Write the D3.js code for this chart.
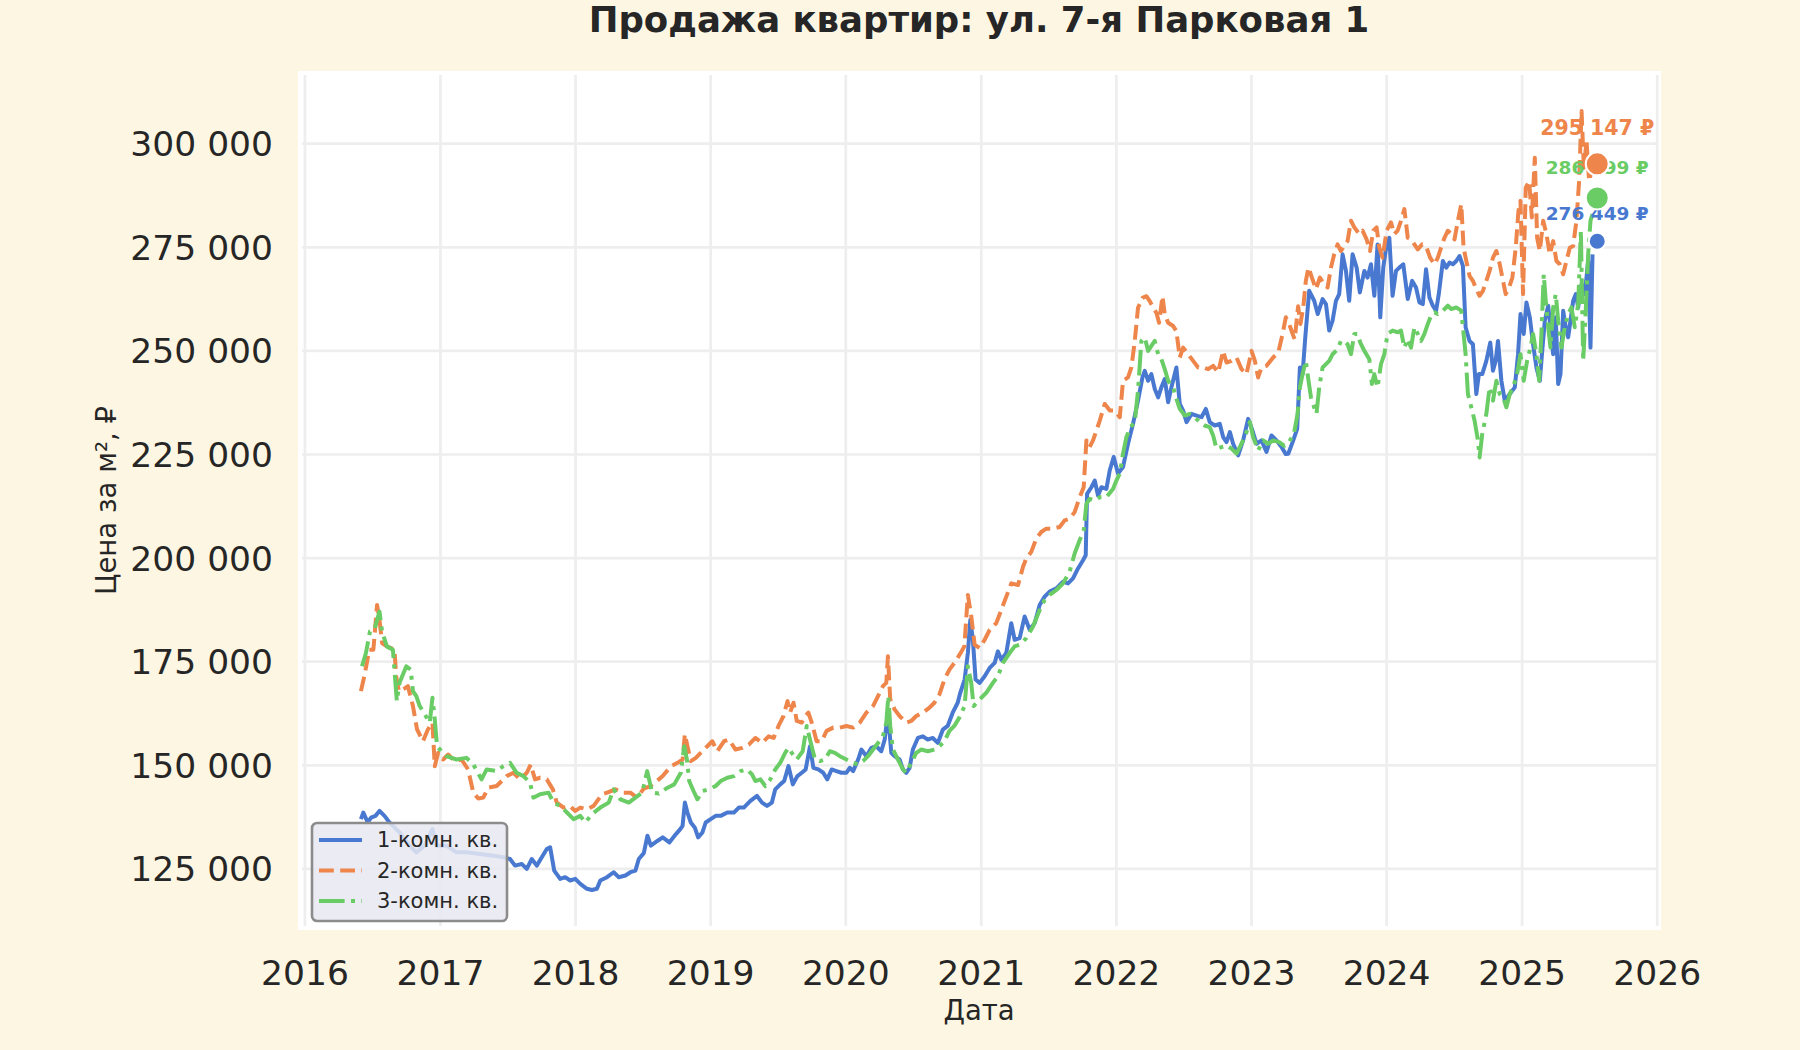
<!DOCTYPE html>
<html>
<head>
<meta charset="utf-8">
<script src="https://cdn.jsdelivr.net/npm/d3@7"></script>
<style>
  body { margin: 0; background: #fdf6e3; }
  text { font-family: "DejaVu Sans", sans-serif; fill: #262626; }
</style>
</head>
<body>
<div id="chart"></div>
<script>
// ---- data (decimal year, price per m2) ----
const categories = ["1-комн. кв.", "2-комн. кв.", "3-комн. кв."];

const room1 = [
  [2016.413,137000],[2016.431,138600],[2016.463,136200],[2016.488,137400],[2016.520,137800],[2016.550,139000],
  [2016.587,137800],[2016.624,136200],[2016.698,133800],[2016.772,130600],[2016.822,129000],[2016.884,130600],
  [2016.941,134600],[2016.970,130600],[2017.045,130600],[2017.119,129000],[2017.193,129000],[2017.292,128600],
  [2017.391,128200],[2017.465,127800],[2017.515,127400],[2017.552,125800],[2017.601,126200],[2017.639,125000],
  [2017.676,127400],[2017.713,125800],[2017.750,127800],[2017.787,129800],[2017.812,130200],[2017.842,124600],
  [2017.886,122600],[2017.923,123000],[2017.960,122200],[2017.998,122600],[2018.035,121400],[2018.084,120200],
  [2018.121,119900],[2018.158,120200],[2018.183,122200],[2018.233,123000],[2018.282,124200],[2018.319,123000],
  [2018.369,123400],[2018.406,124200],[2018.443,124600],[2018.468,127400],[2018.505,128800],[2018.532,133000],
  [2018.557,130600],[2018.608,131800],[2018.645,132600],[2018.694,131400],[2018.743,133400],[2018.775,134600],
  [2018.792,135400],[2018.809,141000],[2018.828,138600],[2018.853,136200],[2018.882,135000],[2018.907,132600],
  [2018.939,133800],[2018.963,136200],[2019.000,137000],[2019.037,137800],[2019.074,137800],[2019.123,138600],
  [2019.172,138600],[2019.208,139800],[2019.245,139800],[2019.294,141400],[2019.343,142600],[2019.380,141000],
  [2019.417,140200],[2019.453,141000],[2019.478,144200],[2019.515,145400],[2019.544,146200],[2019.576,149800],
  [2019.608,145400],[2019.642,147400],[2019.674,148200],[2019.703,149000],[2019.735,154600],[2019.760,149400],
  [2019.797,149000],[2019.833,148200],[2019.863,146600],[2019.895,149000],[2019.931,148600],[2019.968,148200],
  [2020.005,148200],[2020.029,149400],[2020.054,148600],[2020.091,151400],[2020.115,153800],[2020.152,152200],
  [2020.189,154200],[2020.225,154600],[2020.262,153400],[2020.287,156200],[2020.311,162700],[2020.336,153000],
  [2020.360,152200],[2020.397,151400],[2020.422,149000],[2020.446,148200],[2020.471,149400],[2020.495,153800],
  [2020.532,156600],[2020.569,157000],[2020.605,156200],[2020.642,156600],[2020.679,155400],[2020.716,158600],
  [2020.752,159500],[2020.789,162700],[2020.826,165100],[2020.845,167500],[2020.877,170700],[2020.901,177100],
  [2020.919,185100],[2020.938,180300],[2020.958,170700],[2020.988,169900],[2021.025,171500],[2021.062,173500],
  [2021.099,174700],[2021.123,177500],[2021.148,175500],[2021.185,177100],[2021.222,184300],[2021.247,180300],
  [2021.284,180700],[2021.321,185900],[2021.358,182700],[2021.395,184300],[2021.432,188700],[2021.469,190700],
  [2021.506,191900],[2021.556,192700],[2021.605,194300],[2021.642,193900],[2021.679,195100],[2021.716,197500],
  [2021.753,199500],[2021.773,200700],[2021.783,215500],[2021.815,217100],[2021.840,218700],[2021.864,215100],
  [2021.889,217100],[2021.926,216700],[2021.951,221200],[2021.980,224400],[2022.012,220400],[2022.049,222000],
  [2022.086,227600],[2022.123,232400],[2022.160,238000],[2022.193,243600],[2022.210,245200],[2022.235,242800],
  [2022.259,244400],[2022.284,240800],[2022.309,238800],[2022.333,241200],[2022.358,243200],[2022.383,237600],
  [2022.407,241200],[2022.444,246000],[2022.469,237200],[2022.494,235600],[2022.519,232800],[2022.556,234800],
  [2022.593,234400],[2022.630,234000],[2022.662,236000],[2022.691,232800],[2022.728,232000],[2022.765,232400],
  [2022.790,229200],[2022.815,228000],[2022.840,230400],[2022.864,227600],[2022.901,224800],[2022.938,228400],
  [2022.975,233600],[2023.007,230800],[2023.037,227600],[2023.074,228400],[2023.111,225600],[2023.148,229600],
  [2023.185,228400],[2023.222,226800],[2023.254,225100],[2023.272,225200],[2023.309,228400],[2023.338,231200],
  [2023.358,246000],[2023.378,244400],[2023.398,253300],[2023.427,264500],[2023.464,262100],[2023.490,258900],
  [2023.526,262500],[2023.551,261300],[2023.575,254900],[2023.600,257300],[2023.625,262100],[2023.649,263700],
  [2023.674,273300],[2023.699,269300],[2023.723,262100],[2023.748,273300],[2023.778,270100],[2023.802,264100],
  [2023.835,269300],[2023.859,267700],[2023.884,270900],[2023.909,263300],[2023.933,275700],[2023.953,258100],
  [2023.975,270100],[2024.000,275700],[2024.020,277300],[2024.044,263300],[2024.069,269300],[2024.094,270100],
  [2024.123,270900],[2024.156,262500],[2024.188,266900],[2024.217,265300],[2024.242,261700],[2024.267,261300],
  [2024.291,269700],[2024.316,262900],[2024.341,260900],[2024.365,259700],[2024.385,263700],[2024.415,271700],
  [2024.440,270100],[2024.464,271300],[2024.489,270900],[2024.514,271700],[2024.538,272900],[2024.563,270500],
  [2024.583,255700],[2024.612,252400],[2024.637,251600],[2024.662,239600],[2024.681,244400],[2024.706,244400],
  [2024.736,247600],[2024.765,252000],[2024.785,245200],[2024.805,247600],[2024.822,252400],[2024.847,242800],
  [2024.872,238000],[2024.909,239600],[2024.946,241200],[2024.970,249200],[2024.988,258900],[2025.012,254100],
  [2025.032,261700],[2025.057,258100],[2025.081,251600],[2025.106,246000],[2025.131,242800],[2025.151,250800],
  [2025.168,257300],[2025.193,260900],[2025.210,255700],[2025.230,249200],[2025.249,258100],[2025.267,242000],
  [2025.284,244400],[2025.304,259700],[2025.323,255700],[2025.341,253300],[2025.358,257300],[2025.378,262100],
  [2025.398,263700],[2025.415,260500],[2025.440,266100],[2025.464,263700],[2025.489,271700],[2025.506,250800],
  [2025.521,273300]
];

const room2 = [
  [2016.413,167900],[2016.438,171500],[2016.475,177900],[2016.505,177900],[2016.532,188700],[2016.550,185100],
  [2016.569,179500],[2016.604,178700],[2016.661,177900],[2016.673,171500],[2016.693,167900],[2016.723,168300],
  [2016.760,169100],[2016.797,164300],[2016.827,158700],[2016.871,155800],[2016.908,158700],[2016.941,160300],
  [2016.958,149800],[2016.983,153000],[2017.020,151400],[2017.057,152600],[2017.106,151000],[2017.156,151400],
  [2017.205,149000],[2017.243,143400],[2017.280,142000],[2017.317,142200],[2017.354,144600],[2017.416,145000],
  [2017.490,147400],[2017.540,148200],[2017.589,146600],[2017.639,148200],[2017.668,150200],[2017.700,146600],
  [2017.738,147000],[2017.787,146600],[2017.832,144200],[2017.861,141000],[2017.911,139800],[2017.955,140200],
  [2017.998,139000],[2018.035,139800],[2018.084,139400],[2018.134,140200],[2018.196,143000],[2018.233,143400],
  [2018.295,144200],[2018.344,143400],[2018.406,143400],[2018.455,142200],[2018.505,144400],[2018.554,145000],
  [2018.616,146600],[2018.645,147400],[2018.706,149800],[2018.755,150600],[2018.792,151400],[2018.809,157500],
  [2018.828,154600],[2018.853,151000],[2018.890,151800],[2018.926,153000],[2018.975,154600],[2019.012,155800],
  [2019.049,153400],[2019.098,155800],[2019.135,156200],[2019.184,153800],[2019.233,154200],[2019.282,155000],
  [2019.331,156600],[2019.380,155400],[2019.429,157000],[2019.466,156600],[2019.502,159500],[2019.539,161900],
  [2019.569,165500],[2019.588,162700],[2019.613,165100],[2019.637,160700],[2019.674,160300],[2019.698,161900],
  [2019.723,162700],[2019.748,160300],[2019.784,155800],[2019.821,155800],[2019.858,158300],[2019.907,159100],
  [2019.956,159100],[2020.005,159500],[2020.054,159100],[2020.103,160300],[2020.152,162700],[2020.201,164300],
  [2020.238,166700],[2020.274,169100],[2020.299,169900],[2020.311,176300],[2020.328,165900],[2020.360,163500],
  [2020.397,161900],[2020.446,160300],[2020.483,160700],[2020.520,161900],[2020.569,162700],[2020.618,163900],
  [2020.654,165100],[2020.691,167100],[2020.728,170700],[2020.765,173100],[2020.801,174700],[2020.840,176700],
  [2020.875,178700],[2020.901,191100],[2020.926,186000],[2020.951,179100],[2020.988,178300],[2021.025,180300],
  [2021.062,182700],[2021.111,184300],[2021.148,187500],[2021.185,190700],[2021.222,193900],[2021.272,193500],
  [2021.309,197900],[2021.333,199900],[2021.370,201500],[2021.407,204700],[2021.444,206300],[2021.481,207100],
  [2021.531,207100],[2021.580,207500],[2021.617,209100],[2021.654,209500],[2021.691,211100],[2021.728,214700],
  [2021.758,217100],[2021.778,228400],[2021.802,226800],[2021.827,228400],[2021.852,230800],[2021.877,233200],
  [2021.914,237200],[2021.951,235600],[2021.988,235600],[2022.025,234000],[2022.049,242800],[2022.086,243600],
  [2022.111,246000],[2022.136,252400],[2022.160,260400],[2022.193,262800],[2022.222,263200],[2022.247,262000],
  [2022.272,260400],[2022.296,259200],[2022.316,256800],[2022.341,263200],[2022.358,258800],[2022.383,256800],
  [2022.420,256000],[2022.444,254800],[2022.469,248400],[2022.494,250800],[2022.531,249200],[2022.568,247600],
  [2022.605,246000],[2022.642,246000],[2022.679,245600],[2022.716,246400],[2022.753,244800],[2022.790,250000],
  [2022.815,247200],[2022.852,247600],[2022.889,248400],[2022.926,245600],[2022.963,244400],[2023.000,250000],
  [2023.025,247600],[2023.049,243600],[2023.074,246000],[2023.111,246400],[2023.160,248400],[2023.198,249600],
  [2023.230,254100],[2023.254,258100],[2023.279,256500],[2023.304,254100],[2023.320,252800],[2023.345,260800],
  [2023.362,256500],[2023.383,260500],[2023.402,266900],[2023.422,270100],[2023.447,267700],[2023.477,264900],
  [2023.506,267700],[2023.538,266100],[2023.563,265300],[2023.588,270100],[2023.612,273300],[2023.637,275700],
  [2023.662,274100],[2023.686,275300],[2023.711,276500],[2023.736,281400],[2023.761,279800],[2023.798,278200],
  [2023.822,279000],[2023.852,276900],[2023.877,274100],[2023.901,279000],[2023.926,279800],[2023.946,274900],
  [2023.970,272500],[2024.000,279000],[2024.032,281000],[2024.057,278200],[2024.081,279000],[2024.106,281400],
  [2024.131,284200],[2024.156,277300],[2024.180,276900],[2024.205,275700],[2024.230,274500],[2024.262,275700],
  [2024.291,275300],[2024.321,272500],[2024.353,270900],[2024.378,272500],[2024.402,274900],[2024.427,277300],
  [2024.452,279000],[2024.477,278200],[2024.501,276900],[2024.526,281400],[2024.551,285400],[2024.568,274900],
  [2024.588,271700],[2024.612,268100],[2024.637,266900],[2024.662,264900],[2024.686,263300],[2024.711,264500],
  [2024.736,266900],[2024.760,269300],[2024.785,272500],[2024.810,274100],[2024.835,270900],[2024.854,267700],
  [2024.879,263700],[2024.904,265300],[2024.928,267700],[2024.953,274900],[2024.973,283800],[2024.988,286200],
  [2025.007,263700],[2025.027,289400],[2025.052,291000],[2025.072,282200],[2025.094,296600],[2025.111,277300],
  [2025.131,274100],[2025.156,281400],[2025.180,278200],[2025.205,273300],[2025.230,276500],[2025.254,271700],
  [2025.279,270900],[2025.304,268500],[2025.328,271700],[2025.353,274900],[2025.378,275300],[2025.402,281400],
  [2025.422,291000],[2025.440,307900],[2025.457,294200],[2025.477,300600],[2025.496,291000],[2025.514,293400]
];

const room3 = [
  [2016.421,173900],[2016.450,177100],[2016.480,182300],[2016.512,182700],[2016.550,187100],[2016.569,182300],
  [2016.604,178700],[2016.649,177900],[2016.678,165500],[2016.698,169900],[2016.748,173900],[2016.780,173100],
  [2016.797,167900],[2016.822,166700],[2016.847,164300],[2016.884,162300],[2016.921,160300],[2016.941,166300],
  [2016.958,161100],[2016.975,154600],[2017.007,153400],[2017.045,152200],[2017.119,151400],[2017.193,151800],
  [2017.243,150200],[2017.304,146600],[2017.342,149000],[2017.416,148600],[2017.465,149800],[2017.515,150600],
  [2017.564,148200],[2017.614,147400],[2017.663,145800],[2017.688,142200],[2017.738,143000],[2017.800,143400],
  [2017.837,141000],[2017.886,140200],[2017.936,138600],[2017.985,137000],[2018.035,137800],[2018.072,136200],
  [2018.121,138200],[2018.183,139800],[2018.245,141000],[2018.282,144200],[2018.332,141800],[2018.394,141000],
  [2018.443,142200],[2018.493,143400],[2018.530,148600],[2018.567,143400],[2018.616,143200],[2018.681,144600],
  [2018.730,145400],[2018.779,148200],[2018.804,154600],[2018.824,151400],[2018.841,146200],[2018.873,143800],
  [2018.902,141800],[2018.939,143800],[2018.988,144200],[2019.037,145000],[2019.074,146200],[2019.123,147000],
  [2019.172,147400],[2019.221,148600],[2019.270,149000],[2019.306,147800],[2019.331,146200],[2019.368,146600],
  [2019.404,145000],[2019.441,146600],[2019.478,149000],[2019.515,150600],[2019.551,153000],[2019.576,154200],
  [2019.600,153000],[2019.637,151400],[2019.681,153400],[2019.711,159500],[2019.735,156200],[2019.772,151400],
  [2019.809,151000],[2019.846,151400],[2019.882,153400],[2019.919,153000],[2019.956,152200],[2020.005,151400],
  [2020.054,150600],[2020.091,150200],[2020.127,151000],[2020.164,152200],[2020.201,153800],[2020.238,155400],
  [2020.274,157000],[2020.299,160300],[2020.314,166700],[2020.328,159500],[2020.348,153800],[2020.385,151400],
  [2020.422,149000],[2020.446,148200],[2020.483,150600],[2020.520,153000],[2020.556,153800],[2020.605,153400],
  [2020.654,153800],[2020.691,154600],[2020.728,155800],[2020.765,158300],[2020.801,159500],[2020.838,161500],
  [2020.877,164300],[2020.901,173900],[2020.926,169900],[2020.943,164300],[2020.988,165900],[2021.037,167500],
  [2021.086,169900],[2021.123,171500],[2021.160,174700],[2021.210,177100],[2021.247,178700],[2021.284,179100],
  [2021.333,180700],[2021.383,183500],[2021.432,187500],[2021.469,189900],[2021.506,191100],[2021.556,192300],
  [2021.605,193900],[2021.654,196700],[2021.691,201100],[2021.728,204300],[2021.758,206700],[2021.778,213100],
  [2021.802,214300],[2021.840,213900],[2021.877,214700],[2021.926,214700],[2021.975,216700],[2022.000,218700],
  [2022.025,220400],[2022.049,225200],[2022.074,229200],[2022.104,231600],[2022.136,232800],[2022.160,240400],
  [2022.185,252400],[2022.210,253200],[2022.235,250000],[2022.259,251200],[2022.284,252400],[2022.309,249200],
  [2022.333,248000],[2022.358,245600],[2022.383,242800],[2022.420,241200],[2022.444,238400],[2022.469,236000],
  [2022.506,234400],[2022.543,234800],[2022.580,234000],[2022.617,232800],[2022.654,232000],[2022.691,231600],
  [2022.716,229600],[2022.741,226400],[2022.778,226800],[2022.815,227200],[2022.852,226400],[2022.889,225200],
  [2022.926,227600],[2022.963,230400],[2022.988,232800],[2023.012,229200],[2023.049,226000],[2023.086,228400],
  [2023.123,227600],[2023.160,228400],[2023.205,228000],[2023.242,227100],[2023.279,228000],[2023.316,230400],
  [2023.341,234800],[2023.358,241200],[2023.378,244400],[2023.402,247600],[2023.422,242800],[2023.440,238800],
  [2023.464,236400],[2023.481,234800],[2023.501,241200],[2023.526,246000],[2023.551,246800],[2023.575,247600],
  [2023.600,249200],[2023.637,250400],[2023.662,252400],[2023.686,252400],[2023.711,251600],[2023.736,249200],
  [2023.761,254100],[2023.785,254100],[2023.805,252000],[2023.835,250000],[2023.872,248000],[2023.891,242000],
  [2023.909,244400],[2023.933,241200],[2023.958,246800],[2023.983,249200],[2024.007,254100],[2024.044,254900],
  [2024.081,254500],[2024.106,254900],[2024.131,250800],[2024.156,252900],[2024.180,250800],[2024.205,255700],
  [2024.230,254100],[2024.254,252400],[2024.279,254100],[2024.304,256500],[2024.328,258500],[2024.353,259300],
  [2024.378,258900],[2024.415,259700],[2024.452,260900],[2024.477,260100],[2024.514,260500],[2024.551,259700],
  [2024.568,254100],[2024.583,249200],[2024.600,239600],[2024.625,236400],[2024.649,233200],[2024.674,228400],
  [2024.686,224300],[2024.706,230000],[2024.736,234800],[2024.760,241200],[2024.785,238000],[2024.810,242800],
  [2024.835,239600],[2024.859,238800],[2024.884,236400],[2024.909,239600],[2024.933,241200],[2024.963,244400],
  [2024.988,249200],[2025.012,242800],[2025.037,247600],[2025.062,250800],[2025.081,254100],[2025.106,249200],
  [2025.126,242800],[2025.143,254100],[2025.160,268500],[2025.175,262100],[2025.193,255700],[2025.210,250800],
  [2025.230,260500],[2025.249,263700],[2025.267,257300],[2025.291,250800],[2025.316,255700],[2025.341,258900],
  [2025.365,260500],[2025.390,255700],[2025.415,261300],[2025.435,279000],[2025.452,247600],[2025.472,260500],
  [2025.489,273300],[2025.506,281400],[2025.521,283000]
];

// latest values shown with markers
const lastDate = 2025.556;
const lastValues = [276449, 295147, 286899];

const yTicks = [125000, 150000, 175000, 200000, 225000, 250000, 275000, 300000];
const xTickYears = [2016, 2017, 2018, 2019, 2020, 2021, 2022, 2023, 2024, 2025, 2026];

const series = [room1, room2, room3];
const colors = ["#4878d0", "#ee854a", "#6acc64"];
const dashes = [null, "14.8,6.4", "25.6,6.4,4,6.4"];
const markerR = [8.5, 11.5, 11.5];
const labelSize = [18.5, 20.5, 18.5];
const labelDy = [-21, -29, -24];

// ---- helpers ----
function toDate(t) {
  const y = Math.floor(t);
  const s = Date.UTC(y, 0, 1), e = Date.UTC(y + 1, 0, 1);
  return new Date(s + (t - y) * (e - s));
}
const fmt = v => d3.format(",")(v).replace(/,/g, " ");

const W = 1800, H = 1050;
const plot = {left: 299, right: 1659, top: 72, bottom: 929};

const svg = d3.select("#chart").append("svg")
  .attr("width", W).attr("height", H);

svg.append("rect").attr("width", W).attr("height", H).attr("fill", "#fdf6e3");

// domains with 5% margins like matplotlib
const allT = series.flat().map(d => d[0]).concat([lastDate]);
const allV = series.flat().map(d => d[1]).concat(lastValues);
const tExt = d3.extent(allT), vExt = d3.extent(allV);
const tPad = (tExt[1] - tExt[0]) * 0.05, vPad = (vExt[1] - vExt[0]) * 0.05;

const x = d3.scaleUtc()
  .domain([toDate(tExt[0] - tPad), toDate(tExt[1] + tPad)])
  .range([plot.left, plot.right]);
const y = d3.scaleLinear()
  .domain([vExt[0] - vPad, vExt[1] + vPad])
  .range([plot.bottom, plot.top]);

// axes background
svg.append("rect")
  .attr("x", plot.left - 1).attr("y", plot.top - 1)
  .attr("width", plot.right - plot.left + 3).attr("height", plot.bottom - plot.top + 2)
  .attr("fill", "#ffffff");

const g = svg.append("g");

// grid
g.selectAll(".vgrid").data(xTickYears).enter().append("line")
  .attr("x1", d => x(toDate(d))).attr("x2", d => x(toDate(d)))
  .attr("y1", plot.top + 3).attr("y2", plot.bottom - 3)
  .attr("stroke", "#eeeeee").attr("stroke-width", 2.7);
g.selectAll(".hgrid").data(yTicks).enter().append("line")
  .attr("x1", plot.left + 3).attr("x2", plot.right - 3)
  .attr("y1", d => y(d)).attr("y2", d => y(d))
  .attr("stroke", "#eeeeee").attr("stroke-width", 2.7);

// lines
const line = d3.line().x(d => x(toDate(d[0]))).y(d => y(d[1]));
series.forEach((s, i) => {
  g.append("path")
    .datum(s)
    .attr("fill", "none")
    .attr("stroke", colors[i])
    .attr("stroke-width", 4)
    .attr("stroke-linejoin", "round")
    .attr("stroke-dasharray", dashes[i])
    .attr("d", line);
});

// value labels
lastValues.forEach((v, i) => {
  g.append("text")
    .attr("x", x(toDate(lastDate)))
    .attr("y", y(v) + labelDy[i])
    .attr("text-anchor", "middle")
    .style("font-size", labelSize[i] + "px")
    .style("font-weight", "bold")
    .style("fill", colors[i])
    .text(fmt(v) + " ₽");
});

// last-point markers
lastValues.forEach((v, i) => {
  g.append("circle")
    .attr("cx", x(toDate(lastDate)))
    .attr("cy", y(v))
    .attr("r", markerR[i])
    .attr("fill", colors[i])
    .attr("stroke", "#ffffff")
    .attr("stroke-width", 2);
});

// legend
const leg = svg.append("g").attr("transform", "translate(312,823)");
leg.append("rect")
  .attr("width", 195).attr("height", 98).attr("rx", 5)
  .attr("fill", "#e8e9f1").attr("fill-opacity", 0.85)
  .attr("stroke", "#8c8c8c").attr("stroke-width", 2.6);
categories.forEach((c, i) => {
  const ry = 17 + i * 30.5;
  leg.append("line")
    .attr("x1", 7).attr("x2", 50).attr("y1", ry).attr("y2", ry)
    .attr("stroke", colors[i]).attr("stroke-width", 4)
    .attr("stroke-dasharray", dashes[i]);
  leg.append("text")
    .attr("x", 65).attr("y", ry).attr("dy", "0.35em")
    .style("font-size", "21px")
    .text(c);
});

// tick labels
svg.append("g").selectAll("text").data(yTicks).enter().append("text")
  .attr("x", 273).attr("y", d => y(d)).attr("dy", "0.36em")
  .attr("text-anchor", "end")
  .style("font-size", "34.5px")
  .text(d => fmt(d));
svg.append("g").selectAll("text").data(xTickYears).enter().append("text")
  .attr("x", d => x(toDate(d))).attr("y", 985)
  .attr("text-anchor", "middle")
  .style("font-size", "34.5px")
  .text(d => d3.utcFormat("%Y")(toDate(d)));

// axis labels
svg.append("text")
  .attr("transform", "translate(116," + ((plot.top + plot.bottom) / 2) + ") rotate(-90)")
  .attr("text-anchor", "middle")
  .style("font-size", "27.5px")
  .text("Цена за м², ₽");
svg.append("text")
  .attr("x", (plot.left + plot.right) / 2).attr("y", 1020)
  .attr("text-anchor", "middle")
  .style("font-size", "27.5px")
  .text("Дата");

// title
svg.append("text")
  .attr("x", (plot.left + plot.right) / 2).attr("y", 32)
  .attr("text-anchor", "middle")
  .style("font-size", "35.5px")
  .style("font-weight", "bold")
  .text("Продажа квартир: ул. 7-я Парковая 1");
</script>
</body>
</html>
